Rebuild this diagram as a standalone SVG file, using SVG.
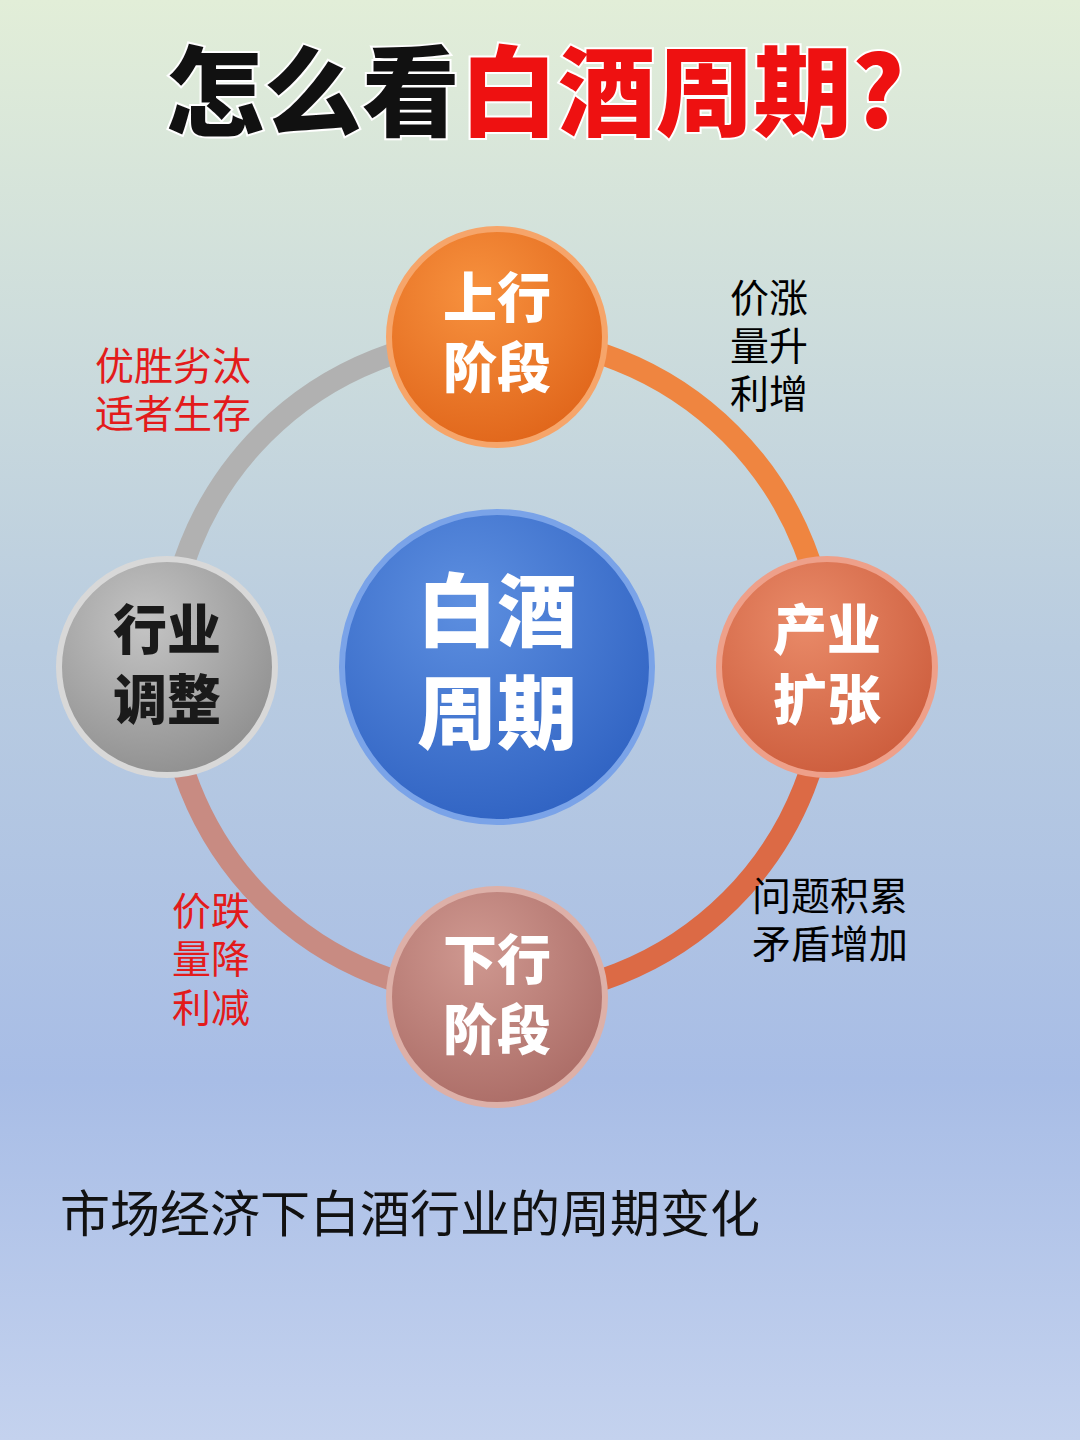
<svg xmlns="http://www.w3.org/2000/svg" width="1080" height="1440" viewBox="0 0 1080 1440">
<defs>
<linearGradient id="bg" x1="0" y1="0" x2="0" y2="1">
<stop offset="0" stop-color="#e2eed8"/><stop offset="0.45" stop-color="#b9cce0"/><stop offset="0.75" stop-color="#a8bde6"/><stop offset="1" stop-color="#c4d2ee"/></linearGradient>
<radialGradient id="gTop" cx="0.4" cy="0.3" r="0.75"><stop offset="0" stop-color="#f7913e"/><stop offset="1" stop-color="#e0651a"/></radialGradient>
<radialGradient id="gRight" cx="0.4" cy="0.3" r="0.75"><stop offset="0" stop-color="#e98a68"/><stop offset="1" stop-color="#cc5c3c"/></radialGradient>
<radialGradient id="gBot" cx="0.4" cy="0.3" r="0.75"><stop offset="0" stop-color="#cf9890"/><stop offset="1" stop-color="#ab6c66"/></radialGradient>
<radialGradient id="gLeft" cx="0.4" cy="0.3" r="0.75"><stop offset="0" stop-color="#c4c4c4"/><stop offset="1" stop-color="#8e8e8e"/></radialGradient>
<radialGradient id="gCen" cx="0.4" cy="0.3" r="0.75"><stop offset="0" stop-color="#5d8fe0"/><stop offset="1" stop-color="#2f62c2"/></radialGradient>
</defs>
<style>
.node{stroke-width:6}
.nt{font-family:"Noto Sans CJK SC",sans-serif;font-weight:900;fill:#fff;text-anchor:middle}
.lb{font-family:"Noto Sans CJK SC",sans-serif;font-size:39px}
.ring{fill:none;stroke-width:22;stroke-linecap:butt}
</style>
<rect width="1080" height="1440" fill="url(#bg)"/>
<text x="535" y="128" text-anchor="middle" font-family="Noto Sans CJK SC,sans-serif" font-weight="900" font-size="98" stroke="#fff" stroke-width="4" paint-order="stroke"><tspan fill="#111">怎么看</tspan><tspan fill="#ee1111">白酒周期?</tspan></text>
<g id="connectors">
<path class="ring" d="M497 337 A330 330 0 0 1 827 667" stroke="#ef8540"/>
<path class="ring" d="M827 667 A330 330 0 0 1 497 997" stroke="#dc6a45"/>
<path class="ring" d="M497 997 A330 330 0 0 1 167 667" stroke="#c88b82"/>
<path class="ring" d="M167 667 A330 330 0 0 1 497 337" stroke="#b1b1b1"/>
</g>
<g id="top"><circle class="node" cx="497" cy="337" r="108" fill="url(#gTop)" stroke="#f6a56a"/><text class="nt" x="497" y="318" font-size="54">上行</text><text class="nt" x="497" y="388" font-size="54">阶段</text></g>
<g id="right"><circle class="node" cx="827" cy="667" r="108" fill="url(#gRight)" stroke="#eea08a"/><text class="nt" x="827" y="650" font-size="54">产业</text><text class="nt" x="827" y="720" font-size="54">扩张</text></g>
<g id="bottom"><circle class="node" cx="497" cy="997" r="108" fill="url(#gBot)" stroke="#ddb0a8"/><text class="nt" x="497" y="980" font-size="54">下行</text><text class="nt" x="497" y="1050" font-size="54">阶段</text></g>
<g id="left"><circle class="node" cx="167" cy="667" r="108" fill="url(#gLeft)" stroke="#d8d8d8"/><text class="nt" x="167" y="650" font-size="54" style="fill:#1a1a1a">行业</text><text class="nt" x="167" y="720" font-size="54" style="fill:#1a1a1a">调整</text></g>
<g id="center"><circle class="node" cx="497" cy="667" r="155" fill="url(#gCen)" stroke="#7aa3e8"/><text class="nt" x="497" y="640" font-size="80">白酒</text><text class="nt" x="497" y="742" font-size="80">周期</text></g>
<g id="labels" class="lb">
<text x="730" y="312">价涨</text><text x="730" y="360">量升</text><text x="730" y="408">利增</text>
<text x="95" y="380" fill="#e31b1b">优胜劣汰</text><text x="95" y="428" fill="#e31b1b">适者生存</text>
<text x="752" y="910">问题积累</text><text x="752" y="958">矛盾增加</text>
<text x="172" y="925" fill="#e31b1b">价跌</text><text x="172" y="973" fill="#e31b1b">量降</text><text x="172" y="1022" fill="#e31b1b">利减</text>
</g>
<text x="60" y="1232" font-family="Noto Sans CJK SC,sans-serif" font-size="50" fill="#111">市场经济下白酒行业的周期变化</text>
</svg>
